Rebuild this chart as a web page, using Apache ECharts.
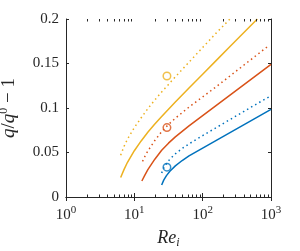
<!DOCTYPE html>
<html><head><meta charset="utf-8">
<script src="https://cdn.jsdelivr.net/npm/echarts@6/dist/echarts.min.js"></script>
<style>html,body{margin:0;padding:0;background:#fff}#c{width:300px;height:251px}</style>
</head><body><div id="c"></div><script>
// ---- data ----
var ysRe = [6.31, 7.08, 7.94, 10, 12.59, 15.85, 19.95, 25.12, 31.62, 39.81, 63.1, 100, 158.5, 251.2, 398.1, 631];
var ysQ  = [0.022, 0.031, 0.039, 0.052, 0.063, 0.073, 0.082, 0.0905, 0.0987, 0.1067, 0.1225, 0.138, 0.1535, 0.169, 0.1845, 0.200];
var ydRe = [6.31, 7.08, 7.94, 10, 12.59, 15.85, 19.95, 25.12, 31.62, 39.81, 63.1, 100, 158.5, 251.2];
var ydQ  = [0.047, 0.057, 0.065, 0.078, 0.089, 0.0995, 0.109, 0.118, 0.1265, 0.135, 0.1515, 0.168, 0.1844, 0.200];
var osRe = [12.88, 14.13, 15.85, 19.95, 25.12, 31.62, 39.81, 63.1, 100, 158.5, 251.2, 398.1, 631, 1000];
var osQ  = [0.018, 0.024, 0.031, 0.0425, 0.0525, 0.0605, 0.0675, 0.080, 0.0915, 0.103, 0.1145, 0.126, 0.1375, 0.149];
var odRe = [13.18, 14.13, 15.85, 19.95, 25.12, 31.62, 39.81, 63.1, 100, 158.5, 251.2, 398.1, 631, 912];
var odQ  = [0.040, 0.045, 0.052, 0.0635, 0.0735, 0.0815, 0.0885, 0.101, 0.1125, 0.124, 0.136, 0.148, 0.160, 0.1696];
var bsRe = [25.12, 26.92, 29.51, 33.11, 39.81, 50.12, 63.1, 100, 158.5, 251.2, 398.1, 631, 1000];
var bsQ  = [0.0135, 0.019, 0.024, 0.029, 0.035, 0.041, 0.0462, 0.055, 0.0637, 0.0724, 0.0811, 0.0898, 0.0985];
var bdRe = [25.12, 26.92, 29.51, 33.11, 39.81, 50.12, 63.1, 100, 158.5, 251.2, 398.1, 631, 933];
var bdQ  = [0.027, 0.0325, 0.0375, 0.0425, 0.0485, 0.0545, 0.0597, 0.069, 0.078, 0.087, 0.096, 0.105, 0.1125];
var circRe = [30, 30, 30];
var circQ  = [0.136, 0.078, 0.0335];
var xTicks = [1, 10, 100, 1000];
var yTicks = [0, 0.05, 0.1, 0.15, 0.2];

var BLUE = '#0072BD', ORANGE = '#D95319', YELLOW = '#EDB120', AX = '#262626';
var SERIF = '"Liberation Serif", "DejaVu Serif", serif';

function pairs(xs, ys){ return xs.map(function(x,i){ return [x, ys[i]]; }); }
var minorVals = [];
for (var k = 0; k < 3; k++) for (var m = 2; m <= 9; m++) minorVals.push([m * Math.pow(10, k), 0]);

var chart = echarts.init(document.getElementById('c'), null, {renderer: 'canvas'});
function lineSeries(xs, ys, color, dotted){
  return {type: 'line', data: pairs(xs, ys), smooth: false, symbol: 'none',
    clip: true, z: 3,
    lineStyle: {color: color, width: 1.5, type: dotted ? [1.5, 3.2] : 'solid', cap: 'butt', join: 'round'}};
}
var axLine = {show: true, lineStyle: {color: AX, width: 1}};
var option = {
  animation: false,
  grid: {left: 66, right: 29, top: 19, bottom: 54, containLabel: false, outerBoundsMode: 'none'},
  xAxis: [{
    type: 'log', logBase: 10, min: xTicks[0], max: xTicks[xTicks.length-1], position: 'bottom',
    axisLine: axLine, axisTick: {inside: true, length: 4, lineStyle: {color: AX}},
    splitLine: {show: false},
    axisLabel: {margin: 8, color: AX, fontFamily: SERIF, fontSize: 15,
      formatter: function(v){ return '10{s|' + Math.round(Math.log10(v)) + '}'; },
      rich: {s: {fontSize: 11, fontFamily: SERIF, color: AX, padding: [0, 0, 9, 0]}}},
    name: '{i|Re}{b|i}', nameLocation: 'middle', nameGap: 31,
    nameTextStyle: {rich: {i: {fontFamily: SERIF, fontStyle: 'italic', fontSize: 18, color: AX},
      b: {fontFamily: SERIF, fontStyle: 'italic', fontSize: 12, color: AX, padding: [9, 0, 0, 0]}}}
  }, {
    type: 'log', logBase: 10, min: xTicks[0], max: xTicks[xTicks.length-1], position: 'top',
    axisLine: axLine, axisTick: {inside: true, length: 4, lineStyle: {color: AX}},
    axisLabel: {show: false}, splitLine: {show: false}
  }],
  yAxis: [{
    type: 'value', min: 0, max: 0.2, interval: 0.05, position: 'left',
    axisLine: axLine, axisTick: {inside: true, length: 3, lineStyle: {color: AX}},
    splitLine: {show: false},
    axisLabel: {margin: 7, color: AX, fontFamily: SERIF, fontSize: 15},
    name: '{i|q}{n|/}{i|q}{s|0}{n| − 1}', nameLocation: 'middle', nameGap: 46,
    nameTextStyle: {rich: {i: {fontFamily: SERIF, fontStyle: 'italic', fontSize: 19, color: AX},
      n: {fontFamily: SERIF, fontSize: 19, color: AX},
      s: {fontFamily: SERIF, fontSize: 12, color: AX, padding: [0, 0, 10, 0]}}}
  }, {
    type: 'value', min: 0, max: 0.2, interval: 0.05, position: 'right',
    axisLine: axLine, axisTick: {inside: true, length: 3, lineStyle: {color: AX}},
    axisLabel: {show: false}, splitLine: {show: false}
  }],
  series: [
    lineSeries(bsRe, bsQ, BLUE, false),
    lineSeries(bdRe, bdQ, BLUE, true),
    lineSeries(osRe, osQ, ORANGE, false),
    lineSeries(odRe, odQ, ORANGE, true),
    lineSeries(ysRe, ysQ, YELLOW, false),
    lineSeries(ydRe, ydQ, YELLOW, true),
    {type: 'scatter', symbol: 'circle', symbolSize: 7.5, z: 4,
      data: [
        {value: [circRe[0], circQ[0]], itemStyle: {color: 'transparent', borderColor: YELLOW, borderWidth: 1.5}},
        {value: [circRe[1], circQ[1]], itemStyle: {color: 'transparent', borderColor: ORANGE, borderWidth: 1.5}},
        {value: [circRe[2], circQ[2]], itemStyle: {color: 'transparent', borderColor: BLUE, borderWidth: 1.5}}
      ]},
    {type: 'custom', data: minorVals, encode: {x: 0, y: 1}, z: 5, silent: true, clip: false,
      renderItem: function(params, api){
        var v = api.value(0);
        var b = api.coord([v, 0]), t = api.coord([v, 0.2]);
        var x = Math.round(b[0]) + 0.5;
        return {type: 'group', children: [
          {type: 'line', shape: {x1: x, y1: b[1], x2: x, y2: b[1] - 2.5}, style: {stroke: AX, lineWidth: 1}},
          {type: 'line', shape: {x1: x, y1: t[1], x2: x, y2: t[1] + 2.5}, style: {stroke: AX, lineWidth: 1}}
        ]};
      }}
  ]
};
chart.setOption(option);
</script></body></html>
